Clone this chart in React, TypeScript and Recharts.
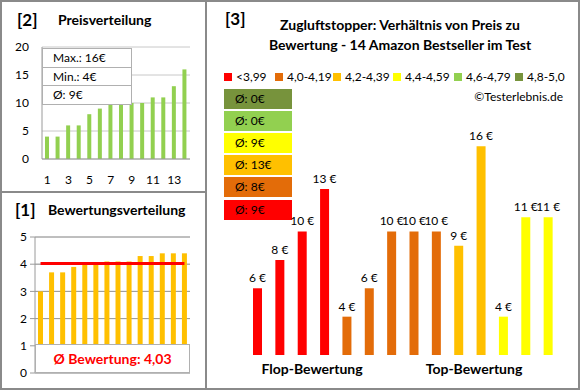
import React from "react";
import {
  BarChart,
  Bar,
  ComposedChart,
  Line,
  XAxis,
  YAxis,
  CartesianGrid,
  Cell,
  LabelList,
} from "recharts";

// product numbers 1..14
const productIds = ["1", "2", "3", "4", "5", "6", "7", "8", "9", "10", "11", "12", "13", "14"];

// [2] prices, sorted ascending
const pricesSorted = [4, 4, 6, 6, 8, 9, 10, 10, 10, 10, 11, 11, 13, 16];
const priceStats = ["Max.: 16€", "Min.: 4€", "Ø: 9€"];

// [1] ratings, sorted ascending
const ratingsSorted = [3.0, 3.7, 3.7, 3.9, 4.0, 4.0, 4.1, 4.1, 4.1, 4.3, 4.3, 4.4, 4.4, 4.4];
const avgRating = 4.03;
const avgRatingLabel = "Ø Bewertung: 4,03";

// [3] price by rating, flop -> top
const pricesByRating = [6, 8, 10, 13, 4, 6, 10, 10, 10, 9, 16, 4, 11, 11];
const ratingClassOfBar = [0, 0, 0, 0, 1, 1, 1, 1, 1, 2, 2, 3, 3, 3];
const ratingClasses = ["<3,99", "4,0-4,19", "4,2-4,39", "4,4-4,59", "4,6-4,79", "4,8-5,0"];
// averages per rating class, index = class
const classAverages = ["9€", "8€", "13€", "9€", "0€", "0€"];
const groupLabels = ["Flop-Bewertung", "Top-Bewertung"];

const CLASS_COLORS = ["#FF0000", "#E36C09", "#FFC000", "#FFFF00", "#92D050", "#77933C"];
const GRID_MINOR = "#c8c8c8";
const GRID_MAJOR = "#9a9a9a";
const FRAME = "#8a8a8a";

const priceData = productIds.map((id, i) => ({ name: id, price: pricesSorted[i] }));
const ratingData = productIds.map((id, i) => ({ name: id, rating: ratingsSorted[i], avg: avgRating }));
const bestData = productIds.map((id, i) => ({ name: id, price: pricesByRating[i], cls: ratingClassOfBar[i] }));

const priceGrid = Array.from({ length: 21 }, (_, i) => i);
const ratingMinor = Array.from({ length: 26 }, (_, i) => Math.round(i * 2) / 10);
const ratingMajor = [0, 1, 2, 3, 4, 5];

// legend item x positions in panel [3]
const legendX = [224, 275, 333, 393, 454, 515];

const abs = (left: number, top: number, extra: React.CSSProperties = {}): React.CSSProperties => ({
  position: "absolute",
  left,
  top,
  ...extra,
});

// price label above each bar, no wrapping
const PriceLabel = (props: any) => {
  const { x, y, width, value } = props;
  return (
    <text x={Number(x) + Number(width) / 2} y={Number(y) - 6} textAnchor="middle" fontSize={12} fill="#000">
      {`${value} €`}
    </text>
  );
};

export default function App() {
  return (
    <div
      style={{
        position: "absolute",
        left: 0,
        top: 0,
        width: 580,
        height: 390,
        background: "#fff",
        fontFamily: "Lato, 'Noto Sans', sans-serif",
        color: "#000",
        overflow: "hidden",
      }}
    >
      {/* frames */}
      <div style={abs(0, 0, { width: 207, height: 193, border: `2px solid ${FRAME}`, boxSizing: "border-box" })} />
      <div style={abs(0, 191, { width: 207, height: 199, border: `2px solid ${FRAME}`, boxSizing: "border-box" })} />
      <div style={abs(205, 0, { width: 375, height: 390, border: `2px solid ${FRAME}`, boxSizing: "border-box" })} />

      {/* [2] Preisverteilung */}
      <div style={abs(17, 9, { fontSize: 17, fontWeight: 700 })}>[2]</div>
      <div style={abs(58, 11, { fontSize: 14, fontWeight: 700 })}>Preisverteilung</div>
      <div style={abs(0, 0)}>
        <BarChart width={205} height={190} data={priceData} margin={{ top: 47, right: 15, bottom: 1, left: 12 }}>
          <CartesianGrid horizontalValues={priceGrid} vertical={false} stroke={GRID_MINOR} />
          <XAxis
            dataKey="name"
            interval={1}
            tickLine={false}
            axisLine={{ stroke: GRID_MAJOR }}
            tick={{ fill: "#000", fontSize: 12 }}
            tickMargin={10}
            height={30}
          />
          <YAxis
            domain={[0, 20]}
            ticks={[0, 5, 10, 15, 20]}
            width={30}
            tickLine={false}
            axisLine={{ stroke: GRID_MAJOR }}
            tick={{ fill: "#000", fontSize: 12 }}
            tickMargin={7}
          />
          <Bar dataKey="price" fill="#92D050" barSize={4} isAnimationActive={false} />
        </BarChart>
      </div>
      <div
        style={abs(42, 48, {
          width: 90,
          background: "#fff",
          border: "1px solid #b0b0b0",
          boxSizing: "border-box",
        })}
      >
        {priceStats.map((s, i) => (
          <div
            key={s}
            style={{
              height: i === 1 ? 17 : 18,
              lineHeight: (i === 1 ? 17 : 18) + "px",
              fontSize: 12,
              paddingLeft: 10,
              borderTop: i > 0 ? "1px solid #b0b0b0" : "none",
            }}
          >
            {s}
          </div>
        ))}
      </div>

      {/* [1] Bewertungsverteilung */}
      <div style={abs(15, 199, { fontSize: 17, fontWeight: 700 })}>[1]</div>
      <div style={abs(48, 201, { fontSize: 14, fontWeight: 700 })}>Bewertungsverteilung</div>
      <div style={abs(0, 191)}>
        <ComposedChart width={205} height={199} data={ratingData} margin={{ top: 46, right: 15, bottom: 17, left: 10 }}>
          <CartesianGrid horizontalValues={ratingMinor} vertical={false} stroke={GRID_MINOR} />
          <CartesianGrid horizontalValues={ratingMajor} vertical={false} stroke={GRID_MAJOR} />
          <XAxis dataKey="name" hide />
          <YAxis
            domain={[0, 5]}
            ticks={ratingMajor}
            width={25}
            tickSize={5}
            tickMargin={3}
            tickLine={{ stroke: GRID_MAJOR }}
            axisLine={{ stroke: GRID_MAJOR }}
            tick={{ fill: "#000", fontSize: 12 }}
          />
          <Bar dataKey="rating" fill="#FFC000" barSize={5} isAnimationActive={false} />
          <Line dataKey="avg" stroke="#FF0000" strokeWidth={3} dot={false} isAnimationActive={false} />
        </ComposedChart>
      </div>
      <div
        style={abs(35, 344, {
          width: 155,
          height: 29,
          background: "#fff",
          border: "1px solid #b0b0b0",
          boxSizing: "border-box",
          textAlign: "center",
          lineHeight: "27px",
          fontSize: 14,
          fontWeight: 700,
          color: "#FF0000",
        })}
      >
        {avgRatingLabel}
      </div>

      {/* [3] Preis zu Bewertung */}
      <div style={abs(225, 8, { fontSize: 17, fontWeight: 700 })}>[3]</div>
      <div
        style={abs(240, 15, {
          width: 320,
          textAlign: "center",
          fontSize: 14,
          fontWeight: 700,
          lineHeight: "20px",
        })}
      >
        Zugluftstopper: Verhältnis von Preis zu
        <br />
        Bewertung - 14 Amazon Bestseller im Test
      </div>
      {ratingClasses.map((c, i) => (
        <div key={c} style={abs(legendX[i], 69, { fontSize: 12, lineHeight: "16px", whiteSpace: "nowrap" })}>
          <span
            style={{
              display: "inline-block",
              width: 8,
              height: 8,
              background: CLASS_COLORS[i],
              marginRight: 4,
              verticalAlign: "0px",
            }}
          />
          {c}
        </div>
      ))}
      <div style={abs(420, 89, { width: 143, textAlign: "right", fontSize: 12 })}>©Testerlebnis.de</div>
      {[5, 4, 3, 2, 1, 0].map((cls, i) => (
        <div
          key={cls}
          style={abs(224, 89 + i * 22.1, {
            width: 68,
            height: 20,
            background: CLASS_COLORS[cls],
            fontSize: 12,
            lineHeight: "20px",
            paddingLeft: 11,
            boxSizing: "border-box",
          })}
        >
          Ø: {classAverages[cls]}
        </div>
      ))}
      <div style={abs(205, 0)}>
        <BarChart width={375} height={390} data={bestData} margin={{ top: 125, right: 21, bottom: 35, left: 41 }}>
          <XAxis dataKey="name" hide />
          <YAxis hide type="number" domain={[1.3, 17.5]} allowDataOverflow />
          <Bar dataKey="price" barSize={9} isAnimationActive={false}>
            {bestData.map((d, i) => (
              <Cell key={`cell-${i}`} fill={CLASS_COLORS[d.cls]} />
            ))}
            <LabelList dataKey="price" content={PriceLabel} />
          </Bar>
        </BarChart>
      </div>
      <div style={abs(232, 360, { width: 160, textAlign: "center", fontSize: 14, fontWeight: 700 })}>
        {groupLabels[0]}
      </div>
      <div style={abs(394, 360, { width: 160, textAlign: "center", fontSize: 14, fontWeight: 700 })}>
        {groupLabels[1]}
      </div>
    </div>
  );
}
